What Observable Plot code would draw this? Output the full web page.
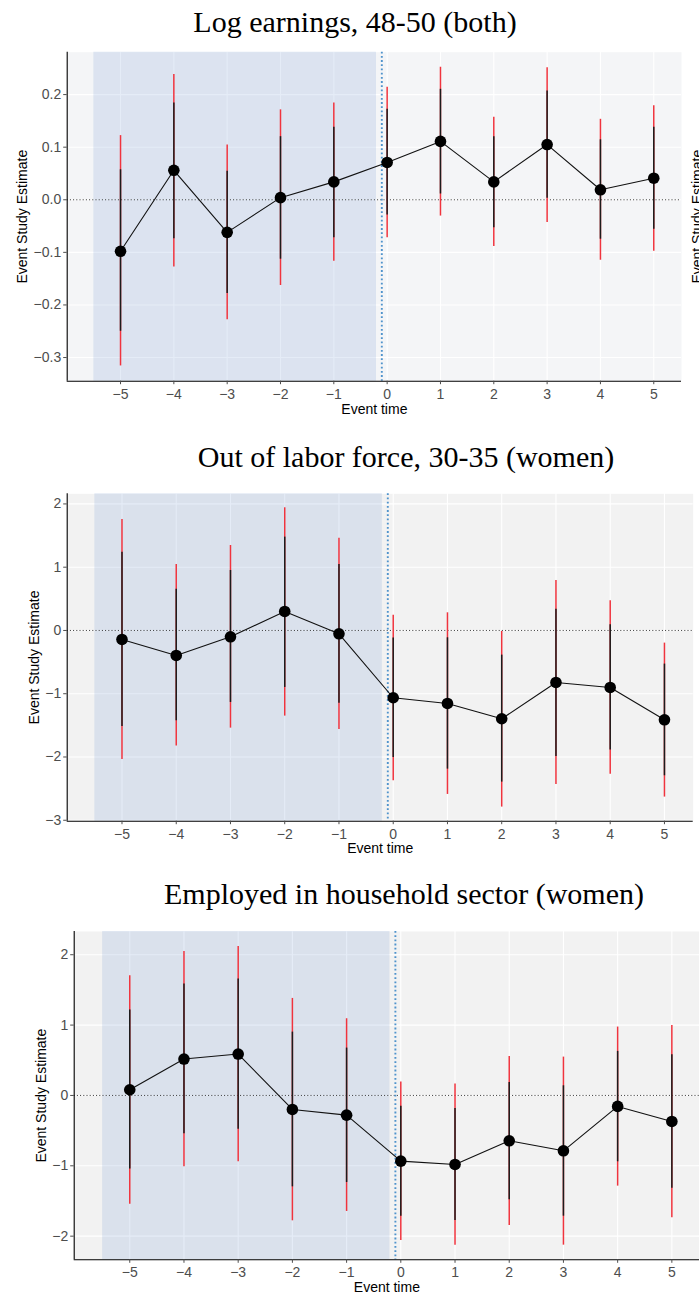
<!DOCTYPE html>
<html>
<head>
<meta charset="utf-8">
<script src="https://cdn.jsdelivr.net/npm/d3@7"></script>
<script src="https://cdn.jsdelivr.net/npm/@observablehq/plot@0.6"></script>
<style>
  html, body { margin: 0; padding: 0; background: #fff; }
  #root { position: relative; width: 699px; height: 1295px; overflow: hidden; background: #fff; }
  .title { position: absolute; left: 0; width: 699px; font-family: "Liberation Serif", "Times New Roman", serif; font-size: 30px; line-height: 30px; color: #000; white-space: nowrap; text-align: center; }
  .panel { position: absolute; left: 0; }
</style>
</head>
<body>
<div id="root"></div>
<script>
// ---------- data ----------
const eventTime = [-5, -4, -3, -2, -1, 0, 1, 2, 3, 4, 5];
const titles = ["Log earnings, 48-50 (both)", "Out of labor force, 30-35 (women)", "Employed in household sector (women)"];
const xLabel = "Event time";
const yLabel = "Event Study Estimate";
const preShade = [-5.5, -0.2];   // shaded pre-period (event time)
const eventLine = -0.1;          // dotted vertical marker (event time)

// Panel 1: Log earnings
const p1Est  = [-0.098, 0.056, -0.062, 0.004, 0.034, 0.071, 0.111, 0.034, 0.105, 0.019, 0.041];
const p1Hi95 = [0.122, 0.238, 0.104, 0.171, 0.184, 0.214, 0.252, 0.157, 0.251, 0.153, 0.179];
const p1Lo95 = [-0.316, -0.128, -0.228, -0.163, -0.117, -0.072, -0.031, -0.089, -0.043, -0.115, -0.098];
const p1Hi90 = [0.057, 0.184, 0.054, 0.120, 0.138, 0.172, 0.210, 0.120, 0.207, 0.114, 0.138];
const p1Lo90 = [-0.250, -0.074, -0.178, -0.113, -0.072, -0.029, 0.011, -0.053, 0.003, -0.075, -0.056];
const p1YTicks = [-0.3, -0.2, -0.1, 0, 0.1, 0.2];

// Panel 2: Out of labor force
const p2Est  = [-0.142, -0.395, -0.100, 0.300, -0.053, -1.064, -1.154, -1.396, -0.822, -0.901, -1.412];
const p2Hi95 = [1.754, 1.043, 1.343, 1.939, 1.459, 0.242, 0.279, -0.016, 0.790, 0.469, -0.200];
const p2Lo95 = [-2.039, -1.828, -1.544, -1.354, -1.565, -2.376, -2.592, -2.792, -2.434, -2.271, -2.634];
const p2Hi90 = [1.238, 0.653, 0.948, 1.475, 1.043, -0.121, -0.116, -0.390, 0.337, 0.090, -0.532];
const p2Lo90 = [-1.517, -1.428, -1.138, -0.901, -1.149, -2.007, -2.192, -2.397, -1.992, -1.891, -2.297];
const p2YTicks = [-3, -2, -1, 0, 1, 2];

// Panel 3: Employed in household sector
const p3Est  = [0.081, 0.517, 0.588, -0.199, -0.280, -0.934, -0.981, -0.645, -0.787, -0.156, -0.370];
const p3Hi95 = [1.701, 2.047, 2.118, 1.379, 1.090, 0.190, 0.161, 0.555, 0.545, 0.972, 0.995];
const p3Lo95 = [-1.545, -1.014, -0.943, -1.782, -1.649, -2.062, -2.128, -1.848, -2.128, -1.289, -1.739];
const p3Hi90 = [1.213, 1.583, 1.654, 0.900, 0.673, -0.152, -0.185, 0.185, 0.137, 0.626, 0.578];
const p3Lo90 = [-1.047, -0.545, -0.479, -1.299, -1.237, -1.716, -1.777, -1.483, -1.716, -0.943, -1.318];
const p3YTicks = [-2, -1, 0, 1, 2];

// ---------- layout ----------
const minus = v => (v < 0 ? "\u2212" : "");
const fmt1 = d => minus(d) + Math.abs(d).toFixed(1);
const fmt0 = d => minus(d) + Math.abs(d).toFixed(0);

const panels = [
  { title: titles[0], titleTop: 6.6, titleCenter: 355,
    top: 40, height: 380, mt: 11.7, mb: 39.3, ml: 66.7, mr: 18,
    xDomain: [-6.0, 5.52], yDomain: [-0.345, 0.2806], yTicks: p1YTicks, yFmt: fmt1,
    est: p1Est, hi95: p1Hi95, lo95: p1Lo95, hi90: p1Hi90, lo90: p1Lo90,
    bg: "#f4f5f7", yLabX: 27, xLabY: 413, ghost: true },
  { title: titles[1], titleTop: 441.9, titleCenter: 406,
    top: 480, height: 380, mt: 13.3, mb: 39.3, ml: 66.7, mr: 6.3,
    xDomain: [-6.01, 5.53], yDomain: [-3.015, 2.16], yTicks: p2YTicks, yFmt: fmt0,
    est: p2Est, hi95: p2Hi95, lo95: p2Lo95, hi90: p2Hi90, lo90: p2Lo90,
    bg: "#f2f2f2", yLabX: 38.3, xLabY: 852.7, ghost: false },
  { title: titles[2], titleTop: 878.9, titleCenter: 404,
    top: 910, height: 385, mt: 21, mb: 35.7, ml: 73.7, mr: 0,
    xDomain: [-6.025, 5.51], yDomain: [-2.336, 2.33], yTicks: p3YTicks, yFmt: fmt0,
    est: p3Est, hi95: p3Hi95, lo95: p3Lo95, hi90: p3Hi90, lo90: p3Lo90,
    bg: "#f2f2f2", yLabX: 46, xLabY: 1291.7, ghost: false }
];

const root = document.getElementById("root");

for (const cfg of panels) {
  const t = document.createElement("div");
  t.className = "title";
  t.style.top = cfg.titleTop + "px";
  t.style.left = (cfg.titleCenter - 349.5) + "px";
  t.textContent = cfg.title;
  root.appendChild(t);

  const data = eventTime.map((x, i) => ({
    t: x, est: cfg.est[i], hi95: cfg.hi95[i], lo95: cfg.lo95[i], hi90: cfg.hi90[i], lo90: cfg.lo90[i]
  }));
  const plotBottom = cfg.top + cfg.height - cfg.mb;

  const marks = [
    Plot.frame({fill: cfg.bg, stroke: null}),
    Plot.gridX(eventTime, {stroke: "#ffffff", strokeOpacity: 1, strokeWidth: 1.1}),
    Plot.gridY(cfg.yTicks, {stroke: "#ffffff", strokeOpacity: 1, strokeWidth: 1.1}),
    Plot.rect([{x1: preShade[0], x2: preShade[1]}], {
      x1: "x1", x2: "x2", y1: () => cfg.yDomain[0], y2: () => cfg.yDomain[1],
      fill: "rgb(100,140,210)", fillOpacity: 0.17
    }),
    Plot.ruleY([0], {stroke: "#333", strokeWidth: 1, strokeDasharray: "1,2.2"}),
    Plot.ruleX([eventLine], {stroke: "#4f93cc", strokeWidth: 1.9, strokeDasharray: "1.8,2.4"}),
    Plot.ruleX(data, {x: "t", y1: "lo95", y2: "hi95", stroke: "#f0343e", strokeWidth: 1.5}),
    Plot.ruleX(data, {x: "t", y1: "lo90", y2: "hi90", stroke: "#1c1c1c", strokeWidth: 1.5}),
    Plot.line(data, {x: "t", y: "est", stroke: "#111", strokeWidth: 1.1}),
    Plot.dot(data, {x: "t", y: "est", r: 5.8, fill: "#000", stroke: null}),
    Plot.ruleX([cfg.xDomain[0]], {stroke: "#000", strokeWidth: 1.1}),
    Plot.ruleY([cfg.yDomain[0]], {stroke: "#000", strokeWidth: 1.1}),
    Plot.axisX(eventTime, {tickSize: 3.5, tickPadding: 4, tickFormat: fmt0, label: null,
      color: "#4d4d4d", fontSize: 14}),
    Plot.axisY(cfg.yTicks, {tickSize: 3.5, tickPadding: 2.5, tickFormat: cfg.yFmt, label: null,
      color: "#4d4d4d", fontSize: 14}),
    Plot.text([xLabel], {frameAnchor: "bottom", dy: cfg.xLabY - plotBottom, lineAnchor: "bottom",
      textAnchor: "middle", fontSize: 14, fill: "#000"}),
    Plot.text([yLabel], {frameAnchor: "left", rotate: -90, lineAnchor: "bottom", textAnchor: "middle",
      dx: cfg.yLabX - cfg.ml, fontSize: 14, fill: "#000"})
  ];
  if (cfg.ghost) {
    marks.push(Plot.text([yLabel], {frameAnchor: "right", rotate: -90, lineAnchor: "top", textAnchor: "middle",
      dx: 691.7 - (699 - cfg.mr), fontSize: 14, fill: "#000"}));
  }

  const chart = Plot.plot({
    width: 699,
    height: cfg.height,
    marginTop: cfg.mt, marginBottom: cfg.mb, marginLeft: cfg.ml, marginRight: cfg.mr,
    style: {fontFamily: "'Liberation Sans', Arial, sans-serif", fontSize: "14px", background: "transparent"},
    x: {domain: cfg.xDomain},
    y: {domain: cfg.yDomain},
    marks
  });
  chart.classList.add("panel");
  chart.style.top = cfg.top + "px";
  chart.style.position = "absolute";
  chart.style.left = "0px";
  root.appendChild(chart);
}
</script>
</body>
</html>
